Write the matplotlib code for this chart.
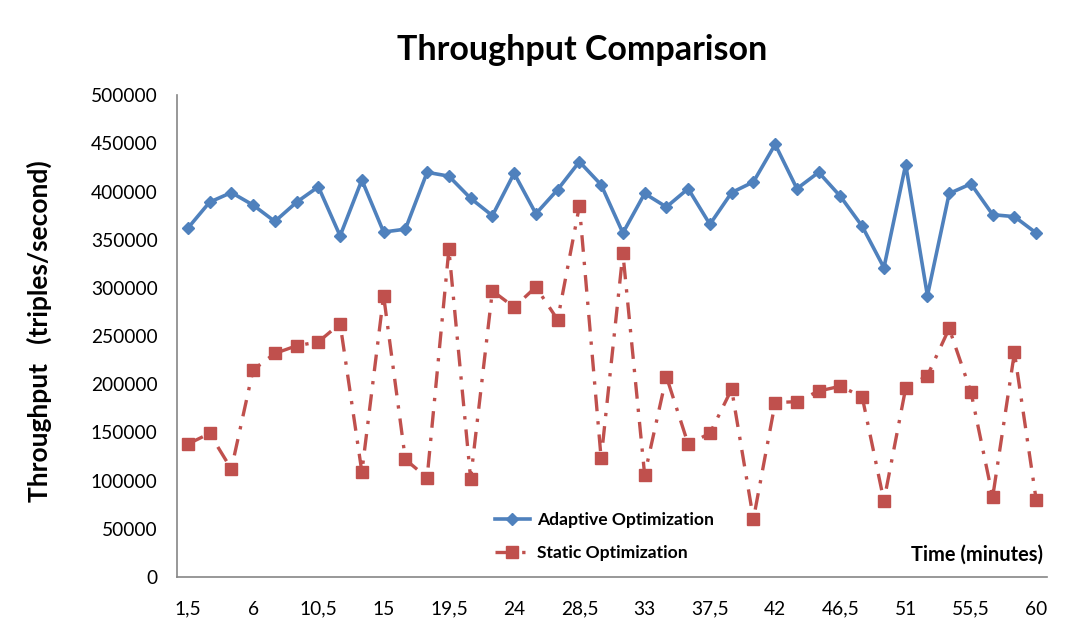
import matplotlib.pyplot as plt
import matplotlib.lines as mlines

plt.rcParams['font.family'] = ['Lato', 'DejaVu Sans']

time_minutes = [1.5 * (i + 1) for i in range(40)]
time_labels = [("%g" % t).replace(".", ",") for t in time_minutes]

adaptive = [362000, 389000, 399000, 386000, 369000, 389000, 405000, 354000,
            412000, 358000, 361000, 420000, 416000, 393000, 375000, 419000,
            377000, 402000, 431000, 407000, 357000, 398000, 384000, 403000,
            366000, 399000, 410000, 449000, 403000, 420000, 395000, 364000,
            321000, 428000, 292000, 398000, 408000, 376000, 374000, 357000]

static = [138000, 149000, 112000, 215000, 232000, 240000, 244000, 263000,
          109000, 292000, 122000, 103000, 340000, 102000, 297000, 280000,
          301000, 267000, 385000, 123000, 336000, 106000, 208000, 138000,
          149000, 195000, 60000, 181000, 182000, 193000, 198000, 187000,
          79000, 196000, 209000, 258000, 192000, 83000, 233000, 80000]

blue = "#4F81BD"
red = "#C0504D"

fig = plt.figure(figsize=(10.89, 6.39), dpi=100)
ax = fig.add_axes([0.1625, 0.097, 0.799, 0.754])

x = list(range(len(time_minutes)))
ax.plot(x, adaptive, color=blue, lw=2.6, marker="D", ms=6.5,
        markeredgecolor=blue, label="Adaptive Optimization")
ax.plot(x, static, color=red, lw=2.4, marker="s", ms=8.5,
        markeredgecolor=red, dashes=(5, 3, 1, 3), label="Static Optimization")

ax.set_xlim(-0.5, len(x) - 0.5)
ax.set_ylim(0, 500000)
ax.set_yticks(range(0, 500001, 50000))
ax.set_yticklabels([str(v) for v in range(0, 500001, 50000)])
ax.set_xticks(x[::3])
ax.set_xticklabels(time_labels[::3])
ax.tick_params(length=0, labelsize=13.8)
ax.tick_params(axis="x", pad=17)
ax.tick_params(axis="y", pad=14)

for side in ["top", "right"]:
    ax.spines[side].set_visible(False)
for side in ["left", "bottom"]:
    ax.spines[side].set_color("#868686")
    ax.spines[side].set_linewidth(1.2)

fig.text(0.535, 0.922, "Throughput Comparison", ha="center", va="center",
         fontsize=24.5, fontweight="bold")
fig.text(0.036, 0.482, "Throughput   (triples/second)", rotation=90,
         ha="center", va="center", fontsize=19, fontweight="bold")
ax.text(0.995, 0.025, "Time (minutes)", transform=ax.transAxes,
        ha="right", va="bottom", fontsize=14.4, fontweight="bold")

h1 = mlines.Line2D([], [], color=blue, lw=2.6, marker="D", ms=6.5)
h2 = mlines.Line2D([], [], color=red, lw=2.4, marker="s", ms=8.5,
                   dashes=(5, 3, 1, 3))
leg = ax.legend([h1, h2], ["Adaptive Optimization", "Static Optimization"],
                loc="lower left", bbox_to_anchor=(0.347, 0.0), frameon=False,
                prop={"weight": "bold", "size": 12.6}, handlelength=2.0,
                handletextpad=0.4, labelspacing=1.0)

fig.savefig("out.png", dpi=100)
